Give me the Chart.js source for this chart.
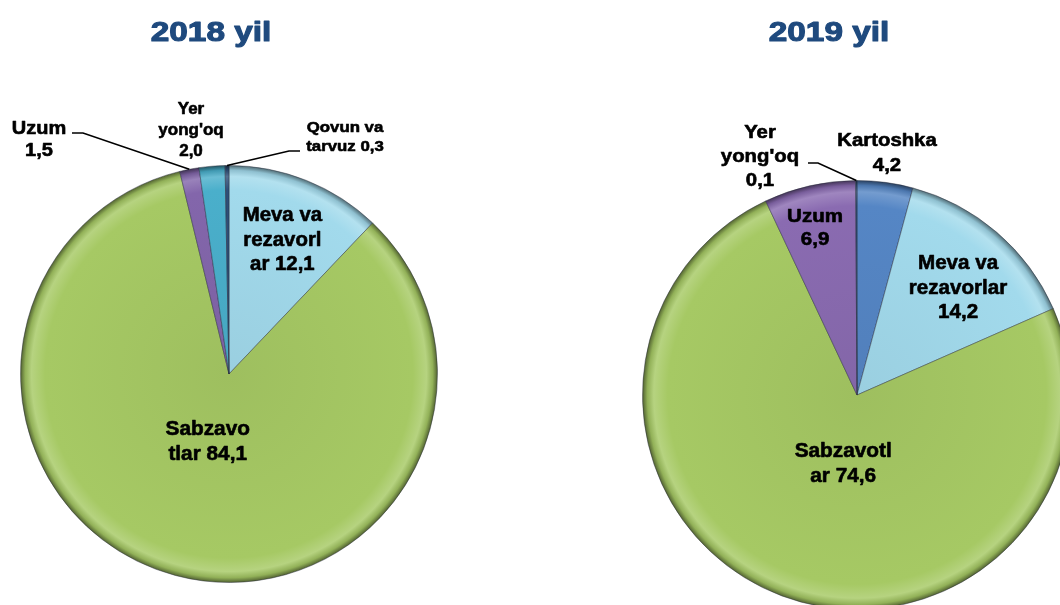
<!DOCTYPE html>
<html>
<head>
<meta charset="utf-8">
<script src="https://cdn.jsdelivr.net/npm/chart.js@4.4.1/dist/chart.umd.min.js"></script>
<style>
  html, body { margin: 0; padding: 0; background: #ffffff; overflow: hidden; width: 1060px; height: 605px; }
  #wrap { position: relative; width: 1060px; height: 605px; overflow: hidden; }
  canvas { position: absolute; top: 0; }
  #pie2018 { left: 0; }
  #pie2019 { left: 530px; }
</style>
</head>
<body>
<div id="wrap">
  <canvas id="pie2018" width="530" height="630"></canvas>
  <canvas id="pie2019" width="600" height="630"></canvas>
</div>
<script>
// Data (shares, %)
const titles = ['2018 yil', '2019 yil'];

const categories2018 = ['Meva va rezavorlar', 'Sabzavotlar', 'Uzum', "Yer yong'oq", 'Qovun va tarvuz'];
const values2018 = [12.1, 84.1, 1.5, 2.0, 0.3];
const colors2018 = ['#A2DAEC', '#A6C964', '#8366AB', '#4AAFCB', '#2E4F78'];
const labelLines2018 = [['Meva va', 'rezavorl', 'ar {v}'], ['Sabzavo', 'tlar {v}'], ['Uzum', '{v}'], ['Yer', "yong'oq", '{v}'], ['Qovun va', 'tarvuz {v}']];

const categories2019 = ['Kartoshka', 'Meva va rezavorlar', 'Sabzavotlar', 'Uzum', "Yer yong'oq"];
const values2019 = [4.2, 14.2, 74.6, 6.9, 0.1];
const colors2019 = ['#5586C5', '#A2DAEC', '#A6C964', '#8A6BB1', '#2E4F78'];
const labelLines2019 = [['Kartoshka', '{v}'], ['Meva va', 'rezavorlar', '{v}'], ['Sabzavotl', 'ar {v}'], ['Uzum', '{v}'], ['Yer', "yong'oq", '{v}']];

function fmt(v) {
    return v.toFixed(1).replace('.', ',');
}

// lighten (amt > 0) or darken (amt < 0) a hex colour
function shade(hex, amt) {
    const n = parseInt(hex.slice(1), 16);
    let r = (n >> 16) & 255, g = (n >> 8) & 255, b = n & 255;
    const t = amt < 0 ? 0 : 255, p = Math.abs(amt);
    r = Math.round(r + (t - r) * p);
    g = Math.round(g + (t - g) * p);
    b = Math.round(b + (t - b) * p);
    return 'rgb(' + r + ',' + g + ',' + b + ')';
}

// bevelled look: radial gradient with a highlight and a dark rim
function sliceFill(colors) {
    return function(ctx) {
        const base = colors[ctx.dataIndex];
        const chart = ctx.chart;
        const a = chart.chartArea;
        if (!a) return base;
        const cx = (a.left + a.right) / 2, cy = (a.top + a.bottom) / 2;
        const r = Math.min(a.right - a.left, a.bottom - a.top) / 2;
        const g = chart.ctx.createRadialGradient(cx, cy, 0, cx, cy, r);
        g.addColorStop(0, shade(base, -0.05));
        g.addColorStop(0.88, base);
        g.addColorStop(0.945, shade(base, 0.18));
        g.addColorStop(0.975, shade(base, -0.12));
        g.addColorStop(1, shade(base, -0.55));
        return g;
    };
}

function stretchedText(ctx, text, x, y, sx, weight) {
    ctx.save();
    ctx.translate(x, y);
    ctx.scale(sx, 1);
    ctx.fillText(text, 0, 0);
    if (weight) {
        ctx.lineWidth = weight;
        ctx.strokeStyle = ctx.fillStyle;
        ctx.lineJoin = 'round';
        ctx.strokeText(text, 0, 0);
    }
    ctx.restore();
}

// draws the title, slice labels and leader lines
function makeLabelPlugin(cfg) {
    return {
        id: 'sliceLabels',
        afterDraw: function(chart) {
            const ctx = chart.ctx;
            const meta = chart.getDatasetMeta(0);
            const values = chart.data.datasets[0].data;
            ctx.save();
            ctx.textAlign = 'center';
            ctx.textBaseline = 'middle';

            // title
            ctx.fillStyle = '#1F4A7E';
            ctx.font = 'bold 28px "Liberation Sans", Arial, sans-serif';
            stretchedText(ctx, cfg.title, cfg.titleX, 33, 1.19, 1.1);

            cfg.labels.forEach(function(lb, i) {
                const arc = meta.data[i];
                const mid = (arc.startAngle + arc.endAngle) / 2;
                let x, y;
                if (lb.at) {
                    x = lb.at[0];
                    y = lb.at[1];
                } else {
                    const d = arc.outerRadius * lb.f;
                    x = arc.x + Math.cos(mid) * d + (lb.nudge ? lb.nudge[0] : 0);
                    y = arc.y + Math.sin(mid) * d + (lb.nudge ? lb.nudge[1] : 0);
                }
                if (lb.lead) {
                    const ex = arc.x + Math.cos(mid) * arc.outerRadius;
                    const ey = arc.y + Math.sin(mid) * arc.outerRadius;
                    ctx.strokeStyle = '#000000';
                    ctx.lineWidth = 1.6;
                    ctx.beginPath();
                    ctx.moveTo(lb.lead[0][0], lb.lead[0][1]);
                    ctx.lineTo(lb.lead[1][0], lb.lead[1][1]);
                    ctx.lineTo(ex, ey);
                    ctx.stroke();
                }
                ctx.fillStyle = '#000000';
                ctx.font = 'bold ' + lb.size + 'px "Liberation Sans", Arial, sans-serif';
                const lines = lb.lines.map(function(s) { return s.replace('{v}', fmt(values[i])); });
                const top = y - (lines.length - 1) * lb.lh / 2;
                lines.forEach(function(s, k) {
                    stretchedText(ctx, s, x, top + k * lb.lh, lb.sx, 0.6);
                });
            });
            ctx.restore();
        }
    };
}

const labels2018 = [
    { lines: labelLines2018[0], f: 0.69, size: 20, sx: 1.02, lh: 24.5 },
    { lines: labelLines2018[1], f: 0.34, nudge: [-3, -1], size: 20, sx: 1.04, lh: 25 },
    { lines: labelLines2018[2], at: [39, 140], lead: [[72, 133], [83, 133]], size: 18, sx: 1.11, lh: 21.5 },
    { lines: labelLines2018[3], at: [191, 130], size: 17, sx: 1.0, lh: 21 },
    { lines: labelLines2018[4], at: [345, 137], lead: [[300, 151], [289, 151]], size: 15, sx: 1.12, lh: 19 }
];

const labels2019 = [
    { lines: labelLines2019[0], at: [357, 154], size: 18, sx: 1.13, lh: 25 },
    { lines: labelLines2019[1], f: 0.68, nudge: [6, 4], size: 20, sx: 1.03, lh: 24.5 },
    { lines: labelLines2019[2], f: 0.33, nudge: [11, 3], size: 20, sx: 1.04, lh: 25 },
    { lines: labelLines2019[3], f: 0.8, nudge: [-4, 1], size: 19, sx: 1.08, lh: 23 },
    { lines: labelLines2019[4], at: [230, 157], lead: [[278, 163], [288, 163]], size: 18, sx: 1.13, lh: 24 }
];

function makePie(canvasId, categories, values, colors, padding, cfg) {
    return new Chart(document.getElementById(canvasId), {
        type: 'pie',
        data: {
            labels: categories,
            datasets: [{
                data: values,
                backgroundColor: sliceFill(colors),
                borderColor: 'rgba(40, 45, 60, 0.45)',
                borderWidth: 1
            }]
        },
        options: {
            responsive: false,
            devicePixelRatio: 1,
            animation: false,
            rotation: 0,
            layout: { padding: padding },
            plugins: {
                legend: { display: false },
                tooltip: { enabled: false }
            }
        },
        plugins: [makeLabelPlugin(cfg)]
    });
}

makePie('pie2018', categories2018, values2018, colors2018,
    { left: 20, top: 165, right: 92, bottom: 47 },
    { title: titles[0], titleX: 211, labels: labels2018 });

makePie('pie2019', categories2019, values2019, colors2019,
    { left: 112, top: 180, right: 58, bottom: 20 },
    { title: titles[1], titleX: 299, labels: labels2019 });
</script>
</body>
</html>
